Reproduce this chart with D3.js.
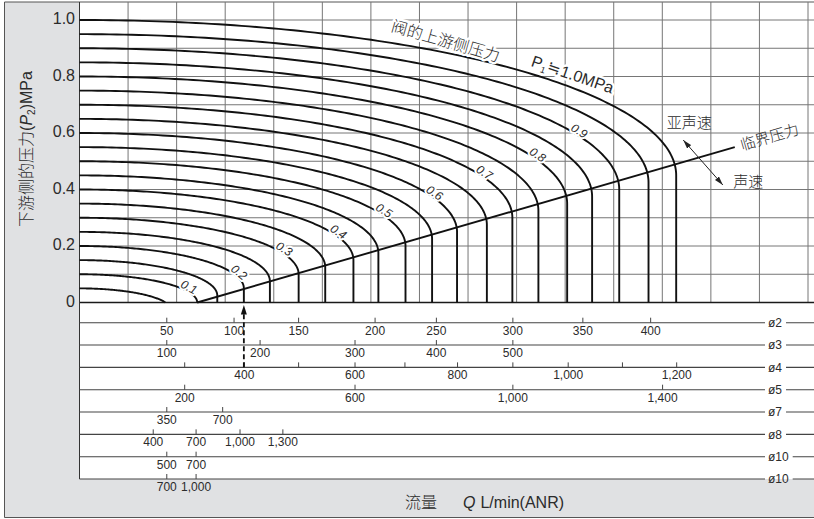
<!DOCTYPE html>
<html>
<head>
<meta charset="utf-8">
<title>流量特性</title>
<script src="https://cdn.jsdelivr.net/npm/d3@7/dist/d3.min.js"></script>
<style>
  html, body { margin: 0; padding: 0; background: #fff; }
  svg { display: block; }
</style>
</head>
<body>
<svg id="chart" width="814" height="519"></svg>
<script>
// Upstream pressure P1 (MPa) of each flow characteristic curve
const upstreamPressures = [0.05, 0.10, 0.15, 0.20, 0.25, 0.30, 0.35, 0.40, 0.45, 0.50,
                           0.55, 0.60, 0.65, 0.70, 0.75, 0.80, 0.85, 0.90, 0.95, 1.00];
// Choked (sonic) flow of each curve on the reference flow scale, L/min(ANR)
const chokedFlows = [268, 317, 354, 403, 451, 504, 553, 605, 651, 701,
                     750, 796, 851, 898, 946, 999, 1045, 1095, 1149, 1200];
// Curves that carry a pressure label, and the flow at which each label sits
const labelledPressures = [0.1, 0.2, 0.3, 0.4, 0.5, 0.6, 0.7, 0.8, 0.9];
const labelFlows = [298, 389, 473, 573, 657, 750, 842, 940, 1017];
// Critical pressure line: flow and downstream pressure at its two ends
const criticalFlows = [317, 1308];
const criticalPressures = [0, 0.55];
// Downstream pressure axis ticks (MPa)
const pressureTicks = [0, 0.2, 0.4, 0.6, 0.8, 1.0];
// Orifice flow scales under the chart
const orificeNames = ["ø2", "ø3", "ø4", "ø5", "ø7", "ø8", "ø10", "ø10"];
const orificeTicks = [
  [50, 100, 150, 200, 250, 300, 350, 400],
  [100, 200, 300, 400, 500],
  [300, 400, 500, 600, 700, 800, 900, 1000, 1100, 1200],
  [200, 600, 1000, 1400],
  [350, 700],
  [400, 700, 1000, 1300],
  [500, 700],
  [700, 1000]
];
// The same ticks read on the reference flow scale of the curves
const orificeTicksRef = [
  [260, 384, 503, 644, 757, 898, 1027, 1152],
  [260, 432, 607, 757, 898],
  [293, 403, 503, 607, 699, 796, 898, 1000, 1100, 1200],
  [293, 607, 898, 1174],
  [260, 363],
  [235, 314, 395, 474],
  [260, 314],
  [260, 314]
];
// Ticks drawn without a number
const orificeUnlabelled = [[], [], [300, 500, 700, 900, 1100], [], [], [], [], []];
// Worked example: ø4 at 400 L/min meets the P1 = 0.2 curve
const exampleRow = 2, exampleFlow = 400;

// ---------------------------------------------------------------------------
const W = 814, H = 519;
const FONT = "'Liberation Sans', Arial, 'Noto Sans CJK SC', sans-serif";
const INK = "#2b2b2b";
const frame = { left: 4.5, top: 2, bottom: 517.5 };
const plotLeft = 79.5, plotRight = 808;
const rowTop = 322.7, rowStep = 22.33;
const bottomEdge = rowTop + rowStep * (orificeNames.length - 1);

// Gas constants for the curve shape: atmosphere (MPa) and critical pressure ratio
const P_ATM = 0.1, CRIT_RATIO = 0.5;

const svg = d3.select("#chart");
const x = d3.scaleLinear().domain([100, 1443]).range([plotLeft, plotRight]);
const y = d3.scaleLinear().domain([0, 1]).range([302.5, 20]);
const gridX = d3.scaleLinear().domain([0, 15]).range([plotLeft, plotRight]);

// panels
svg.append("rect").attr("x", frame.left).attr("y", frame.top)
  .attr("width", W - frame.left).attr("height", frame.bottom - frame.top)
  .attr("fill", "#e0e1e3");
svg.append("rect").attr("x", plotLeft).attr("y", frame.top)
  .attr("width", W - plotLeft).attr("height", bottomEdge - frame.top)
  .attr("fill", "#fff");
svg.append("path")
  .attr("d", `M${W},${frame.top}H${frame.left}V${frame.bottom}H${W}`)
  .attr("fill", "none").attr("stroke", "#555").attr("stroke-width", 1);

// grid
const grid = svg.append("g").attr("stroke", "#767676").attr("stroke-width", 1);
grid.selectAll("line.v").data(d3.range(1, 16)).join("line").attr("class", "v")
  .attr("x1", d => gridX(d)).attr("x2", d => gridX(d))
  .attr("y1", frame.top).attr("y2", y(0));
grid.selectAll("line.h").data(d3.range(1, 11).map(d => d / 10)).join("line").attr("class", "h")
  .attr("x1", plotLeft).attr("x2", W)
  .attr("y1", d => y(d)).attr("y2", d => y(d));
svg.append("line").attr("x1", plotLeft).attr("x2", W).attr("y1", y(0)).attr("y2", y(0))
  .attr("stroke", "#1a1a1a").attr("stroke-width", 1.4);
svg.append("line").attr("x1", plotLeft).attr("x2", plotLeft).attr("y1", frame.top).attr("y2", bottomEdge)
  .attr("stroke", "#333").attr("stroke-width", 1);

// flow characteristic: elliptic subsonic branch, then vertical choked branch
function curveGeom(p1, qc) {
  const pc = CRIT_RATIO * (p1 + P_ATM) - P_ATM;
  const x0 = x.range()[0], x1 = x(qc);
  return { pc, b: p1 - pc, x0, x1, a: x1 - x0 };
}
function curvePoints(p1, qc) {
  const g = curveGeom(p1, qc);
  const pts = [];
  const n = 120;
  for (let i = 0; i <= n; i++) {
    const t = (i / n) * Math.PI / 2;
    const u = Math.sin(t), v = Math.cos(t);
    const p = g.pc + g.b * v;
    if (p < 0) {
      const v0 = -g.pc / g.b, u0 = Math.sqrt(1 - v0 * v0);
      pts.push([g.x0 + u0 * g.a, y(0)]);
      return pts;
    }
    pts.push([g.x0 + u * g.a, y(p)]);
  }
  if (g.pc > 0) pts.push([g.x1, y(0)]);
  return pts;
}
const line = d3.line();
svg.append("g").attr("fill", "none").attr("stroke", "#111").attr("stroke-width", 1.9)
  .selectAll("path").data(upstreamPressures).join("path")
  .attr("d", (p1, i) => line(curvePoints(p1, chokedFlows[i])));

// critical pressure line
const critPts = criticalFlows.map((q, i) => [x(q), y(criticalPressures[i])]);
svg.append("path").attr("d", line(critPts))
  .attr("fill", "none").attr("stroke", "#111").attr("stroke-width", 1.9);

// pressure labels on the curves
labelledPressures.forEach((p1, i) => {
  const qc = chokedFlows[upstreamPressures.findIndex(d => Math.abs(d - p1) < 1e-9)];
  const g = curveGeom(p1, qc);
  const px = x(labelFlows[i]);
  const u = Math.min((px - g.x0) / g.a, 1);
  const v = Math.sqrt(1 - u * u);
  const py = y(g.pc + g.b * v);
  const bpx = y(g.pc) - y(p1);
  const ang = Math.atan2(bpx * u, g.a * v) * 180 / Math.PI;
  svg.append("text")
    .attr("transform", `translate(${px},${py}) rotate(${ang})`)
    .attr("y", -4.5).attr("dy", "0.35em")
    .attr("text-anchor", "middle")
    .attr("font-family", FONT).attr("font-size", 12).attr("font-style", "italic")
    .attr("fill", INK).attr("stroke", "#fff").attr("stroke-width", 4)
    .attr("stroke-linejoin", "round").attr("paint-order", "stroke")
    .text(d3.format(".1f")(p1));
});

// title along the outermost curve
function halo(sel) {
  return sel.attr("stroke", "#fff").attr("stroke-width", 5)
    .attr("stroke-linejoin", "round").attr("paint-order", "stroke");
}
svg.append("text")
  .attr("transform", `translate(${x(673)},${y(0.961)}) rotate(16)`)
  .attr("font-family", FONT).attr("font-size", 16).attr("font-weight", 300)
  .attr("fill", INK).call(halo)
  .text("阀的上游侧压力");
const p1t = svg.append("text")
  .attr("transform", `translate(${x(931)},${y(0.838)}) rotate(19)`)
  .attr("font-family", FONT).attr("font-size", 16)
  .attr("fill", INK).call(halo);
p1t.append("tspan").text("P");
p1t.append("tspan").attr("font-size", 9).attr("dy", 3).text("1");
p1t.append("tspan").attr("dy", -3).attr("dx", 1).text("≒");
p1t.append("tspan").attr("dx", 1).text("1.0MPa");

// subsonic / sonic annotation with double arrow
const defs = svg.append("defs");
defs.append("marker").attr("id", "ah").attr("viewBox", "0 0 10 6")
  .attr("refX", 10).attr("refY", 3).attr("markerWidth", 9).attr("markerHeight", 5.5)
  .attr("markerUnits", "userSpaceOnUse").attr("orient", "auto-start-reverse")
  .append("path").attr("d", "M0,0L10,3L0,6Z").attr("fill", "#222");
svg.append("line")
  .attr("x1", x(1213)).attr("y1", y(0.575)).attr("x2", x(1286)).attr("y2", y(0.416))
  .attr("stroke", "#222").attr("stroke-width", 1)
  .attr("marker-start", "url(#ah)").attr("marker-end", "url(#ah)");
svg.append("text").attr("x", x(1224)).attr("y", y(0.637)).attr("dy", "0.38em")
  .attr("text-anchor", "middle").attr("font-family", FONT).attr("font-size", 15)
  .attr("font-weight", 300).attr("fill", INK).text("亚声速");
svg.append("text").attr("x", x(1333)).attr("y", y(0.428)).attr("dy", "0.38em")
  .attr("text-anchor", "middle").attr("font-family", FONT).attr("font-size", 15)
  .attr("font-weight", 300).attr("fill", INK).text("声速");
{
  const [a, b] = critPts;
  const ang = Math.atan2(b[1] - a[1], b[0] - a[0]) * 180 / Math.PI;
  svg.append("text")
    .attr("transform", `translate(${b[0] + 6},${b[1] - 2}) rotate(${ang})`)
    .attr("dy", "0.38em").attr("font-family", FONT).attr("font-size", 15)
    .attr("font-weight", 300).attr("fill", INK).text("临界压力");
}

// pressure axis
const yAxis = d3.axisLeft(y).tickValues(pressureTicks).tickSize(0).tickPadding(4.5)
  .tickFormat(d => d === 0 ? "0" : d3.format(".1f")(d));
const yg = svg.append("g").attr("transform", `translate(${plotLeft},0)`).call(yAxis);
yg.select(".domain").remove();
yg.selectAll("text").attr("font-size", 16).attr("font-family", FONT)
  .attr("fill", INK).attr("dy", "0.22em");

// orifice scales
orificeNames.forEach((name, i) => {
  const ry = rowTop + i * rowStep;
  const rowScale = d3.scaleLinear().domain(orificeTicks[i]).range(orificeTicksRef[i].map(x));
  const axis = d3.axisBottom(rowScale).tickValues(orificeTicks[i])
    .tickSize(-5).tickPadding(3.5)
    .tickFormat(d => orificeUnlabelled[i].includes(d) ? "" : d3.format(",")(d));
  const g = svg.append("g").attr("transform", `translate(0,${ry})`).call(axis);
  g.select(".domain").remove();
  g.selectAll(".tick line").attr("stroke", "#444");
  g.selectAll(".tick text").attr("font-size", 12).attr("font-family", FONT).attr("fill", INK);

  const label = svg.append("text").attr("x", 768).attr("y", ry).attr("dy", "0.36em")
    .attr("font-family", FONT).attr("font-size", 12).attr("fill", INK).text(name);
  const len = label.node().getComputedTextLength();
  svg.append("path")
    .attr("d", `M${plotLeft},${ry}H${765}M${768 + len + 4},${ry}H${W}`)
    .attr("stroke", "#444").attr("stroke-width", 1.1).attr("fill", "none");

  if (i === exampleRow) {
    // dashed reading arrow from the ø4 scale up to the curves
    const ax = rowScale(exampleFlow);
    svg.append("line").attr("x1", ax).attr("x2", ax)
      .attr("y1", ry).attr("y2", y(0) + 10)
      .attr("stroke", "#111").attr("stroke-width", 1.8).attr("stroke-dasharray", "5,3");
    svg.append("path")
      .attr("d", `M${ax},${y(0) + 2.5}L${ax + 3},${y(0) + 12}L${ax - 3},${y(0) + 12}Z`)
      .attr("fill", "#111");
  }
});

// axis titles
const yt = svg.append("text")
  .attr("transform", `translate(26,149) rotate(-90)`)
  .attr("dy", "0.36em").attr("text-anchor", "middle")
  .attr("font-family", FONT).attr("font-size", 16).attr("fill", INK);
yt.append("tspan").attr("font-weight", 300).text("下游侧的压力(");
yt.append("tspan").attr("font-style", "italic").text("P");
yt.append("tspan").attr("font-size", 10).attr("dy", 3).text("2");
yt.append("tspan").attr("dy", -3).text(")MPa");

const xt = svg.append("text").attr("x", 405).attr("y", 507.5)
  .attr("font-family", FONT).attr("font-size", 16).attr("fill", INK);
xt.append("tspan").attr("font-weight", 300).text("流量");
xt.append("tspan").attr("dx", 26).attr("font-style", "italic").text("Q");
xt.append("tspan").attr("dx", 5).text("L/min(ANR)");
</script>
</body>
</html>
